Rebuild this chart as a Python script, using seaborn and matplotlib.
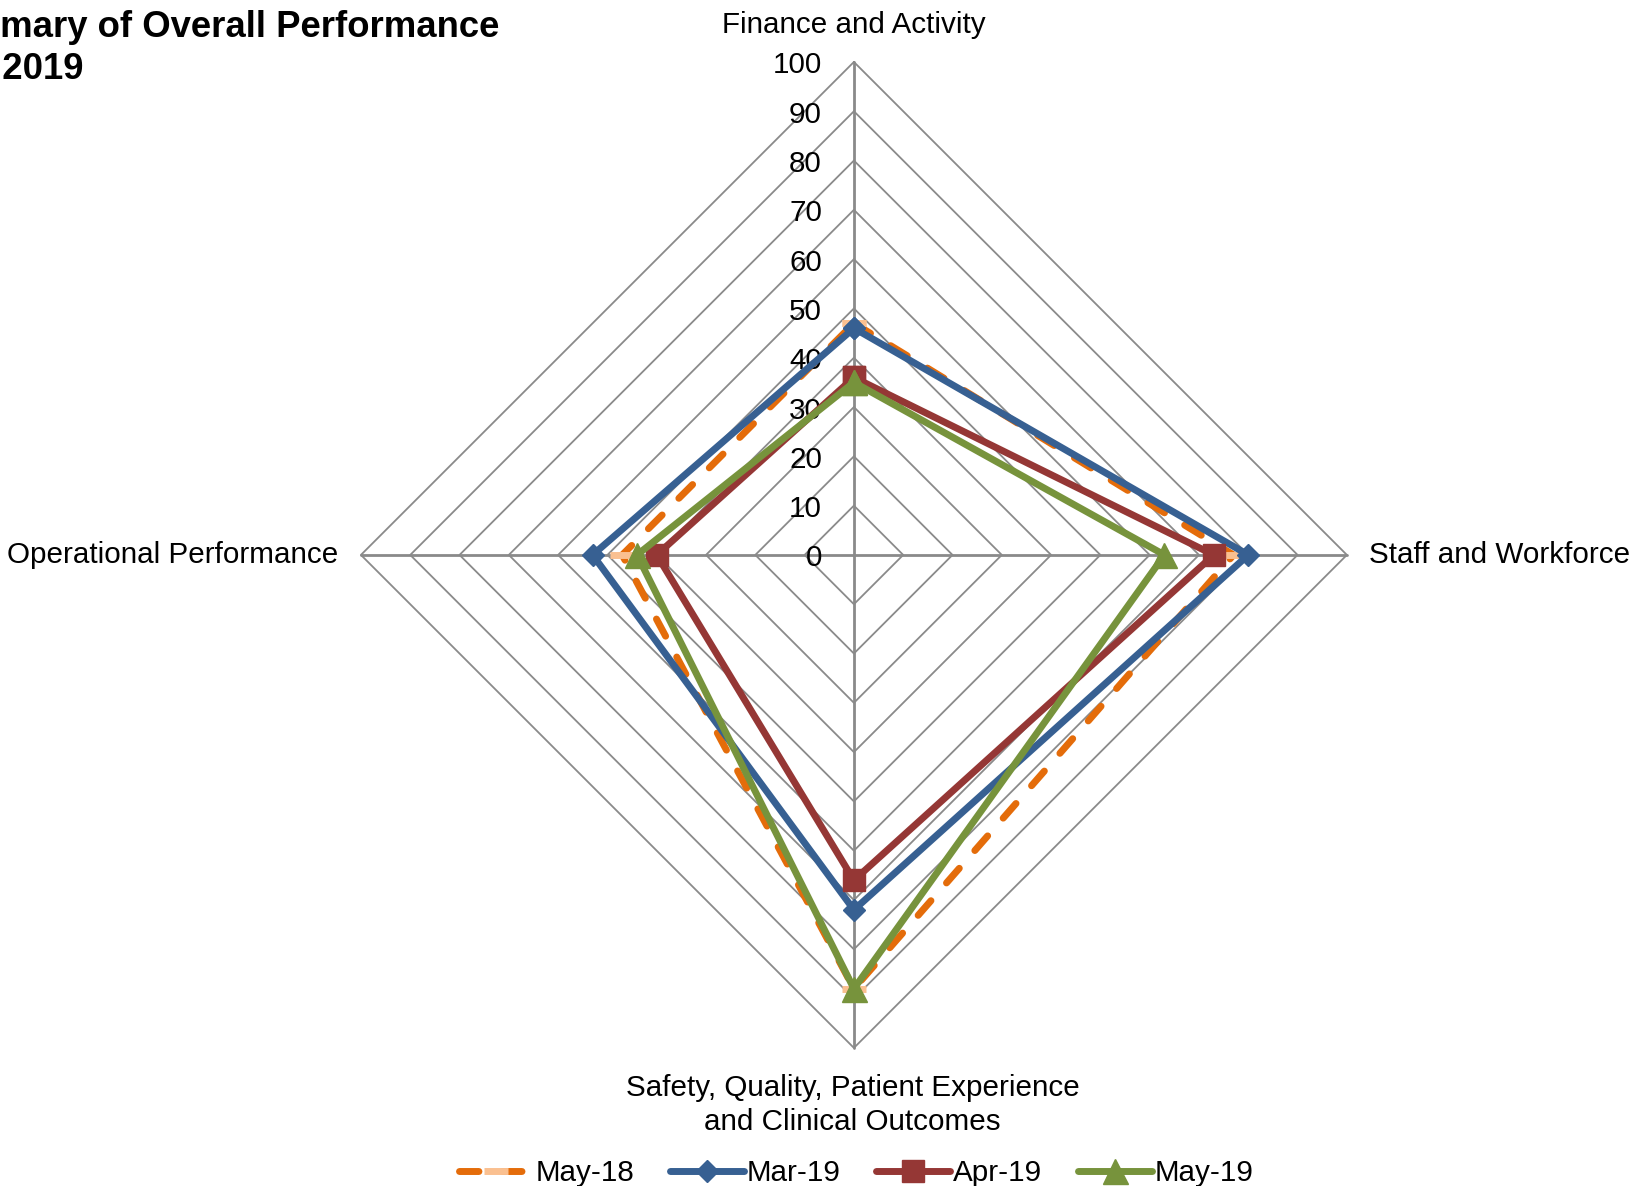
"""
Radar chart - summary of overall performance, May 2019
"""
import numpy as np
import matplotlib
matplotlib.use("Agg")
import matplotlib.pyplot as plt
import seaborn as sns

sns.set_theme(style="white")
plt.rcParams['font.family'] = ['Liberation Sans', 'DejaVu Sans']
plt.rcParams['text.color'] = 'black'

#%%
# data (clockwise from the top)
categories = ["Finance and Activity", "Staff and Workforce",
              "Safety, Quality, Patient Experience\nand Clinical Outcomes",
              "Operational Performance"]
series_names = ["May-18", "Mar-19", "Apr-19", "May-19"]
may_18 = [47, 77, 88, 47]
mar_19 = [46, 80, 72, 53]
apr_19 = [36, 73, 66, 40]
may_19 = [35, 63, 88, 44]
grid_levels = [0, 10, 20, 30, 40, 50, 60, 70, 80, 90, 100]

#%%
# styles
colors = {"May-18": "#E46C0A", "Mar-19": "#376092", "Apr-19": "#953735", "May-19": "#77933C"}
grid_col = "#8A8A8A"
fs = 21.3

theta = np.linspace(0, 2 * np.pi, len(categories), endpoint=False)
theta_closed = np.append(theta, theta[0] + 2 * np.pi)

def close(vals):
    return np.append(vals, vals[0])

fig = plt.figure(figsize=(16.31, 11.86), dpi=100)
ax = fig.add_axes([0.2213, 0.1164, 0.6045, 0.8314], projection='polar')
ax.set_theta_offset(np.pi / 2)
ax.set_theta_direction(-1)
ax.patch.set_alpha(0)
ax.grid(False)
ax.spines['polar'].set_visible(False)

# diamond shaped grid
for lvl in grid_levels[1:]:
    ax.plot(theta_closed, [lvl] * len(theta_closed), color=grid_col, lw=1.3, clip_on=False, zorder=1)
for t in theta:
    ax.plot([t, t], [0, 100], color=grid_col, lw=2.0, clip_on=False, zorder=1)

# series
sns.lineplot(x=theta_closed, y=close(may_18), sort=False, ax=ax, color=colors["May-18"],
             lw=5, linestyle=(0, (2.8, 3.4)), dash_capstyle='round', marker='_', ms=17, mew=5,
             mec="#FAC090", label="May-18", zorder=3, clip_on=False)
sns.lineplot(x=theta_closed, y=close(mar_19), sort=False, ax=ax, color=colors["Mar-19"],
             lw=5, marker='D', ms=11.5, mec=colors["Mar-19"], mew=1, label="Mar-19", zorder=4, clip_on=False)
sns.lineplot(x=theta_closed, y=close(apr_19), sort=False, ax=ax, color=colors["Apr-19"],
             lw=5, marker='s', ms=16, mec=colors["Apr-19"], mew=1, label="Apr-19", zorder=5, clip_on=False)
sns.lineplot(x=theta_closed, y=close(may_19), sort=False, ax=ax, color=colors["May-19"],
             lw=5, marker='^', ms=18, mec=colors["May-19"], mew=1, label="May-19", zorder=6, clip_on=False)

ax.set_ylim(0, 100)
ax.set_xticks([])
ax.set_yticks([])
ax.set_xlabel('')
ax.set_ylabel('')
if ax.get_legend() is not None:
    ax.get_legend().remove()

# value labels along the top spoke
for lvl in grid_levels:
    ax.annotate(str(lvl), xy=(0, lvl), xytext=(-23, -2.5), textcoords='offset points',
                ha='right', va='center', fontsize=fs, color='black', annotation_clip=False)

# category labels
ax.annotate(categories[0], xy=(theta[0], 100), xytext=(0, 21), textcoords='offset points',
            ha='center', va='baseline', fontsize=fs, annotation_clip=False)
ax.annotate(categories[1], xy=(theta[1], 100), xytext=(16, -6), textcoords='offset points',
            ha='left', va='baseline', fontsize=fs, annotation_clip=False)
ax.annotate(categories[2], xy=(theta[2], 100), xytext=(-1, -19), textcoords='offset points',
            ha='center', va='top', fontsize=fs, linespacing=1.25, annotation_clip=False)
ax.annotate(categories[3], xy=(theta[3], 100), xytext=(-16, -6), textcoords='offset points',
            ha='right', va='baseline', fontsize=fs, annotation_clip=False)

# title (cut off on the left, as in the original)
fig.text(-79 / 1631, 1 - 37 / 1186, "Summary of Overall Performance", fontsize=26.3,
         fontweight='bold', ha='left', va='baseline')
fig.text(-79 / 1631, 1 - 79 / 1186, "May 2019", fontsize=26.3,
         fontweight='bold', ha='left', va='baseline')

handles, labels = ax.get_legend_handles_labels()
fig.legend(handles, labels, loc='center', bbox_to_anchor=(0.525, 0.011), ncol=4, frameon=False,
           fontsize=fs, handlelength=2.5, handletextpad=0.1, columnspacing=1.2, borderpad=0)

fig.savefig("out.png", dpi=100)
